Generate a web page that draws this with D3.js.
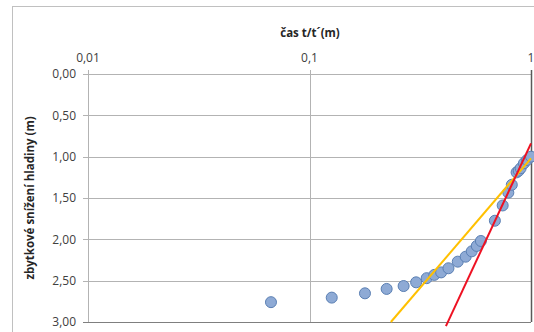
<!DOCTYPE html>
<html>
<head>
<meta charset="utf-8">
<script src="https://cdn.jsdelivr.net/npm/d3@7"></script>
<style>
  body { margin: 0; background: #fff; }
  text { font-family: "Open Sans", "Noto Sans", sans-serif; }
</style>
</head>
<body>
<div id="chart"></div>
<script>
// measured points: t/t' and residual drawdown (m)
var timeRatio = [0.067, 0.126, 0.178, 0.223, 0.266, 0.303, 0.338, 0.366, 0.393, 0.424,
                 0.467, 0.507, 0.540, 0.569, 0.594, 0.687, 0.745, 0.790, 0.819, 0.861,
                 0.880, 0.898, 0.929, 0.960, 1.0];
var drawdown  = [2.76, 2.705, 2.653, 2.60, 2.565, 2.52, 2.47, 2.43, 2.40, 2.35,
                 2.27, 2.21, 2.145, 2.08, 2.02, 1.775, 1.59, 1.435, 1.34, 1.19,
                 1.17, 1.14, 1.08, 1.04, 1.00];

// fitted lines (two end points each)
var yellowX = [0.233, 1.0];
var yellowY = [3.0, 1.02];
var redX = [0.413, 1.0];
var redY = [3.05, 0.84];

var xTicks = [0.01, 0.1, 1];
var xTickLabels = ["0,01", "0,1", "1"];
var yTicks = [0, 0.5, 1, 1.5, 2, 2.5, 3];

var W = 534, H = 332;
var margin = {top: 74, right: 3, bottom: 10, left: 88};

var svg = d3.select("#chart")
  .append("svg")
    .attr("width", W)
    .attr("height", H);

// chart area border
svg.append("rect")
  .attr("x", 12.5).attr("y", 6.5)
  .attr("width", W + 10).attr("height", H + 10)
  .attr("fill", "none")
  .attr("stroke", "#c0c0c0");

var x = d3.scaleLog()
  .domain([0.01, 1])
  .range([margin.left, W - margin.right]);

var y = d3.scaleLinear()
  .domain([0, 3])
  .range([margin.top, H - margin.bottom]);

// horizontal gridlines
svg.append("g")
  .selectAll("line")
  .data(yTicks)
  .enter()
  .append("line")
    .attr("x1", margin.left - 5)
    .attr("x2", W - margin.right)
    .attr("y1", function(d) { return Math.round(y(d)) + 0.5 })
    .attr("y2", function(d) { return Math.round(y(d)) + 0.5 })
    .attr("stroke", function(d) { return d == 3 ? "#7f7f7f" : "#b3b3b3" })
    .attr("stroke-width", 1);

// vertical gridlines
svg.append("g")
  .selectAll("line")
  .data(xTicks)
  .enter()
  .append("line")
    .attr("x1", function(d) { return Math.round(x(d)) + 0.5 })
    .attr("x2", function(d) { return Math.round(x(d)) + 0.5 })
    .attr("y1", margin.top - 4)
    .attr("y2", H - margin.bottom)
    .attr("stroke", function(d) { return d == 1 ? "#595959" : "#b3b3b3" })
    .attr("stroke-width", function(d) { return d == 1 ? 1.5 : 1 });

// y labels
svg.append("g")
  .selectAll("text")
  .data(yTicks)
  .enter()
  .append("text")
    .attr("x", 76)
    .attr("y", function(d) { return y(d) })
    .attr("dy", "0.35em")
    .attr("text-anchor", "end")
    .attr("font-size", "12px")
    .attr("fill", "#404040")
    .text(function(d) { return d.toFixed(2).replace(".", ",") });

// x labels on top
svg.append("g")
  .selectAll("text")
  .data(xTicks)
  .enter()
  .append("text")
    .attr("x", function(d) { return x(d) })
    .attr("y", 62)
    .attr("text-anchor", "middle")
    .attr("font-size", "12px")
    .attr("fill", "#404040")
    .text(function(d, i) { return xTickLabels[i] });

// axis titles
svg.append("text")
  .attr("x", 310)
  .attr("y", 37)
  .attr("text-anchor", "middle")
  .attr("font-size", "11.5px")
  .attr("font-weight", "bold")
  .attr("fill", "#262626")
  .text("čas t/t´(m)");

svg.append("text")
  .attr("transform", "translate(34," + ((margin.top + H - margin.bottom) / 2) + ") rotate(-90)")
  .attr("text-anchor", "middle")
  .attr("font-size", "11.5px")
  .attr("font-weight", "bold")
  .attr("fill", "#262626")
  .text("zbytkové snížení hladiny (m)");

var line = d3.line()
  .x(function(d) { return x(d[0]) })
  .y(function(d) { return y(d[1]) });

// points
svg.append("g")
  .selectAll("circle")
  .data(d3.zip(timeRatio, drawdown))
  .enter()
  .append("circle")
    .attr("cx", function(d) { return x(d[0]) })
    .attr("cy", function(d) { return y(d[1]) })
    .attr("r", 5.5)
    .attr("fill", "#8eaad5")
    .attr("stroke", "#5a7fb3")
    .attr("stroke-width", 1);

// trend lines
svg.append("path")
  .datum(d3.zip(yellowX, yellowY))
  .attr("fill", "none")
  .attr("stroke", "#ffc000")
  .attr("stroke-width", 2)
  .attr("d", line);

svg.append("path")
  .datum(d3.zip(redX, redY))
  .attr("fill", "none")
  .attr("stroke", "#ee1122")
  .attr("stroke-width", 2)
  .attr("d", line);
</script>
</body>
</html>
